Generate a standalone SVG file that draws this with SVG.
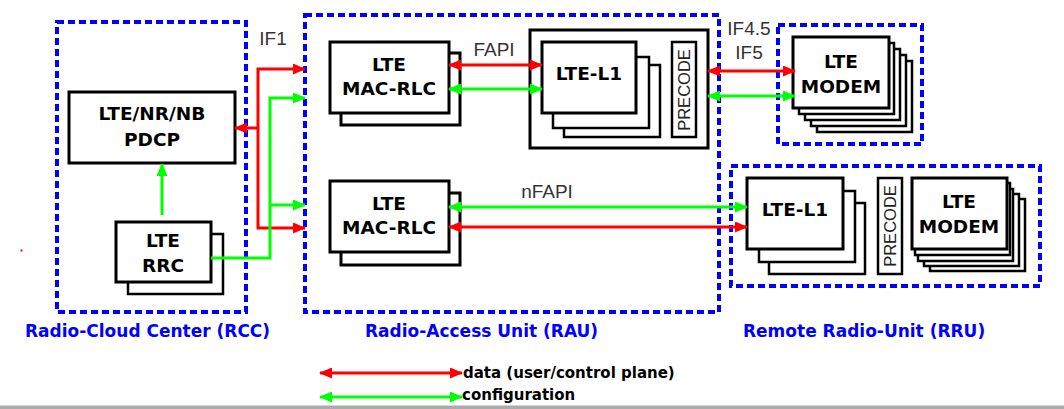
<svg xmlns="http://www.w3.org/2000/svg" width="1064" height="409" viewBox="0 0 1064 409">
<style>
.bg{fill:#ffffff}
.zone{fill:none;stroke:#0000ff;stroke-width:4;stroke-dasharray:7 4}
.box{fill:#ffffff;stroke:#000000;stroke-width:3}
.boxs{fill:#ffffff;stroke:#000000;stroke-width:2.5}
.t{font-family:"DejaVu Sans","Liberation Sans",sans-serif;font-weight:bold;font-size:18.5px;fill:#000;text-anchor:middle}
.n{font-family:"Liberation Sans",Arial,sans-serif;font-size:19px;fill:#333;text-anchor:middle}
.z{font-family:"DejaVu Sans","Liberation Sans",sans-serif;font-weight:bold;font-size:17px;fill:#0000ff}
.p{font-family:"Liberation Sans",Arial,sans-serif;font-size:16.5px;fill:#222;text-anchor:middle}
.lg{font-family:"DejaVu Sans","Liberation Sans",sans-serif;font-weight:bold;font-size:15px;fill:#000}
.r{fill:none;stroke:#ff0000;stroke-width:3}
.g{fill:none;stroke:#00ff00;stroke-width:3}
</style>
<defs>
<marker id="ar" markerUnits="userSpaceOnUse" markerWidth="13" markerHeight="11" refX="12" refY="5.5" orient="auto-start-reverse"><path d="M0,0 L13,5.5 L0,11 z" fill="#ff0000"/></marker>
<marker id="ag" markerUnits="userSpaceOnUse" markerWidth="13" markerHeight="11" refX="12" refY="5.5" orient="auto-start-reverse"><path d="M0,0 L13,5.5 L0,11 z" fill="#00ff00"/></marker>
</defs>
<rect class="bg" x="0" y="0" width="1064" height="409"/>
<rect x="0" y="405.5" width="1064" height="3.5" fill="#aaaaaa"/>
<rect x="20.5" y="249.5" width="2" height="2" fill="#ff0000"/>

<g id="zone-rcc">
<rect class="zone" x="57" y="22" width="189" height="290"/>
<text class="z" x="25" y="337">Radio-Cloud Center (RCC)</text>
</g>
<g id="zone-rau">
<rect class="zone" x="305" y="15" width="414" height="297"/>
<text class="z" x="365" y="337">Radio-Access Unit (RAU)</text>
</g>
<g id="zone-modem">
<rect class="zone" x="778" y="25" width="144" height="119"/>
</g>
<g id="zone-rru">
<rect class="zone" x="731" y="166" width="309" height="120"/>
<text class="z" x="743" y="337">Remote Radio-Unit (RRU)</text>
</g>

<g id="pdcp">
<rect class="box" x="69" y="92" width="166" height="71"/>
<text class="t" x="152" y="120">LTE/NR/NB</text>
<text class="t" x="152" y="146">PDCP</text>
</g>
<g id="rrc">
<rect class="boxs" x="128" y="234" width="95" height="60"/>
<rect class="box" x="116" y="222" width="95" height="60"/>
<text class="t" x="163" y="247">LTE</text>
<text class="t" x="163" y="272">RRC</text>
</g>

<g id="mac-top">
<rect class="box" x="341" y="53" width="119" height="72"/>
<rect class="box" x="330" y="42" width="119" height="71"/>
<text class="t" x="389" y="71">LTE</text>
<text class="t" x="389" y="95">MAC-RLC</text>
</g>
<g id="mac-bottom">
<rect class="box" x="341" y="193" width="119" height="72"/>
<rect class="box" x="330" y="181" width="119" height="71"/>
<text class="t" x="389" y="210">LTE</text>
<text class="t" x="389" y="234">MAC-RLC</text>
</g>

<g id="l1-rau">
<rect class="box" x="530" y="30" width="178" height="118"/>
<rect class="boxs" x="564" y="65" width="96" height="72"/>
<rect class="boxs" x="553" y="57" width="96" height="71"/>
<rect class="box" x="542" y="42" width="94" height="71"/>
<text class="t" x="589" y="80">LTE-L1</text>
<rect class="boxs" x="672" y="42" width="24" height="95"/>
<text class="p" transform="translate(690,90) rotate(-90)">PRECODE</text>
</g>

<g id="modem-top">
<rect class="boxs" x="817" y="61" width="95" height="71"/>
<rect class="boxs" x="811" y="55" width="95" height="71"/>
<rect class="boxs" x="805" y="49" width="95" height="71"/>
<rect class="boxs" x="799" y="43" width="95" height="71"/>
<rect class="box" x="793" y="37" width="96" height="71"/>
<text class="t" x="841" y="68">LTE</text>
<text class="t" x="841" y="93">MODEM</text>
</g>

<g id="l1-rru">
<rect class="boxs" x="769" y="203" width="96" height="71"/>
<rect class="boxs" x="759" y="191" width="96" height="71"/>
<rect class="box" x="747" y="178" width="96" height="71"/>
<text class="t" x="795" y="216">LTE-L1</text>
</g>
<g id="precode-rru">
<rect class="boxs" x="878" y="178" width="24" height="96"/>
<text class="p" transform="translate(896,226) rotate(-90)">PRECODE</text>
</g>
<g id="modem-rru">
<rect class="boxs" x="930" y="199" width="95" height="72"/>
<rect class="boxs" x="924" y="194" width="95" height="72"/>
<rect class="boxs" x="918" y="189" width="95" height="72"/>
<rect class="boxs" x="915" y="183" width="95" height="72"/>
<rect class="box" x="912" y="178" width="95" height="71"/>
<text class="t" x="959" y="208">LTE</text>
<text class="t" x="959" y="233">MODEM</text>
</g>

<g id="connectors">
<path class="r" d="M305,69 H258 V228 H305" marker-start="url(#ar)" marker-end="url(#ar)"/>
<path class="r" d="M258,128 H235" marker-end="url(#ar)"/>
<path class="g" d="M211,258 H270 V98 H305" marker-end="url(#ag)"/>
<path class="g" d="M270,205 H305" marker-end="url(#ag)"/>
<path class="g" d="M162,215 V164" marker-end="url(#ag)"/>
<path class="r" d="M449,65 H542" marker-start="url(#ar)" marker-end="url(#ar)"/>
<path class="g" d="M449,89 H542" marker-start="url(#ag)" marker-end="url(#ag)"/>
<path class="r" d="M708,71 H795" marker-start="url(#ar)" marker-end="url(#ar)"/>
<path class="g" d="M708,96 H795" marker-start="url(#ag)" marker-end="url(#ag)"/>
<path class="g" d="M449,207 H747" marker-start="url(#ag)" marker-end="url(#ag)"/>
<path class="r" d="M449,227 H747" marker-start="url(#ar)" marker-end="url(#ar)"/>
<text class="n" x="273" y="45">IF1</text>
<text class="n" x="494" y="56">FAPI</text>
<text class="n" x="749" y="35">IF4.5</text>
<text class="n" x="749" y="59">IF5</text>
<text class="n" x="547" y="198">nFAPI</text>
</g>

<g id="legend">
<path class="r" d="M320,373 H462" marker-start="url(#ar)" marker-end="url(#ar)"/>
<path class="g" d="M320,397 H462" marker-start="url(#ag)" marker-end="url(#ag)"/>
<text class="lg" x="463" y="378">data (user/control plane)</text>
<text class="lg" x="462" y="400">configuration</text>
</g>
</svg>
